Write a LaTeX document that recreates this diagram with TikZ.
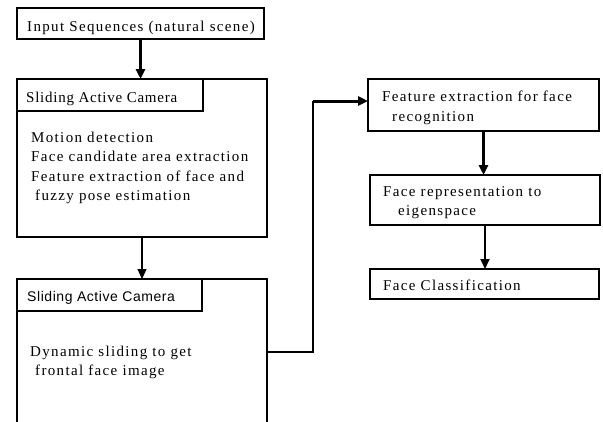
\documentclass[tikz,border=0pt]{standalone}
\usepackage{fontspec}
\setmainfont{Liberation Serif}[LetterSpace=9]
\newfontfamily\hdsans{Liberation Sans}[LetterSpace=4]
\newfontfamily\hdserif{Liberation Serif}[LetterSpace=5]
\usetikzlibrary{arrows.meta}
\begin{document}
\begin{tikzpicture}[x=1pt,y=-1pt,
  box/.style={draw, line width=1.1pt, inner sep=0pt, outer sep=0pt, anchor=north west},
  txt/.style={anchor=base west, inner sep=0pt, font=\fontsize{15}{19.5}\selectfont},
  sanstxt/.style={txt, font=\hdsans\fontsize{14}{19.5}\selectfont},
  hdtxt/.style={txt, font=\hdserif\fontsize{15}{19.5}\selectfont},
  arr/.style={-{Triangle[length=10pt,width=9pt]}},
  thickarr/.style={arr, line width=3pt},
  medarr/.style={arr, line width=2pt},
  thinarr/.style={arr, line width=1.2pt}]
\useasboundingbox (0,0) rectangle (603,421);
% boxes
\node[box, minimum width=247pt, minimum height=31pt] (in) at (17,8) {};
\node[box, minimum width=250pt, minimum height=158pt] (b2) at (17,79) {};
\node[box, minimum width=186pt, minimum height=32pt] (h2) at (17,79) {};
\node[box, minimum width=250pt, minimum height=180pt] (b3) at (17,279) {};
\node[box, minimum width=185pt, minimum height=32pt] (h3) at (17,279) {};
\node[box, minimum width=231pt, minimum height=52pt] (b4) at (368,79) {};
\node[box, minimum width=230pt, minimum height=50pt] (b5) at (370,175) {};
\node[box, minimum width=229pt, minimum height=30pt] (b6) at (370,269) {};
% texts
\node[txt] (tin) at (27,31) {Input Sequences (natural scene)};
\node[hdtxt] (th2) at (26,102) {Sliding Active Camera};
\node[txt] (tb2a) at (31,142.5) {Motion detection};
\node[txt] (tb2b) at (31,161.5) {Face candidate area extraction};
\node[txt] (tb2c) at (31,181.5) {Feature extraction of face and};
\node[txt] (tb2d) at (35,200.5) {fuzzy pose estimation};
\node[sanstxt] (th3) at (27,301.5) {Sliding Active Camera};
\node[txt] (tb3a) at (30,356.5) {Dynamic sliding to get};
\node[txt] (tb3b) at (35,375) {frontal face image};
\node[txt] (tb4a) at (382,101.5) {Feature extraction for face};
\node[txt] (tb4b) at (392,121.5) {recognition};
\node[txt] (tb5a) at (383,196.5) {Face representation to};
\node[txt] (tb5b) at (398,215) {eigenspace};
\node[txt] (tb6) at (383,290) {Face Classification};
% connectors
\draw[thickarr] (in.south) -- (in.south |- b2.north);
\draw[thinarr] (b2.south) -- (b2.south |- b3.north);
\coordinate (c1) at ([yshift=-73pt]b3.north east);
\coordinate (c2) at (313,352);
\coordinate (c3) at (313,101);
\draw[line width=1.1pt] (c1) -- (c2) -- (c3);
\draw[thickarr] (c3) -- (c3 -| b4.west);
\draw[thickarr] (b4.south) -- (b4.south |- b5.north);
\draw[medarr] (b5.south) -- (b5.south |- b6.north);
\end{tikzpicture}
\end{document}
